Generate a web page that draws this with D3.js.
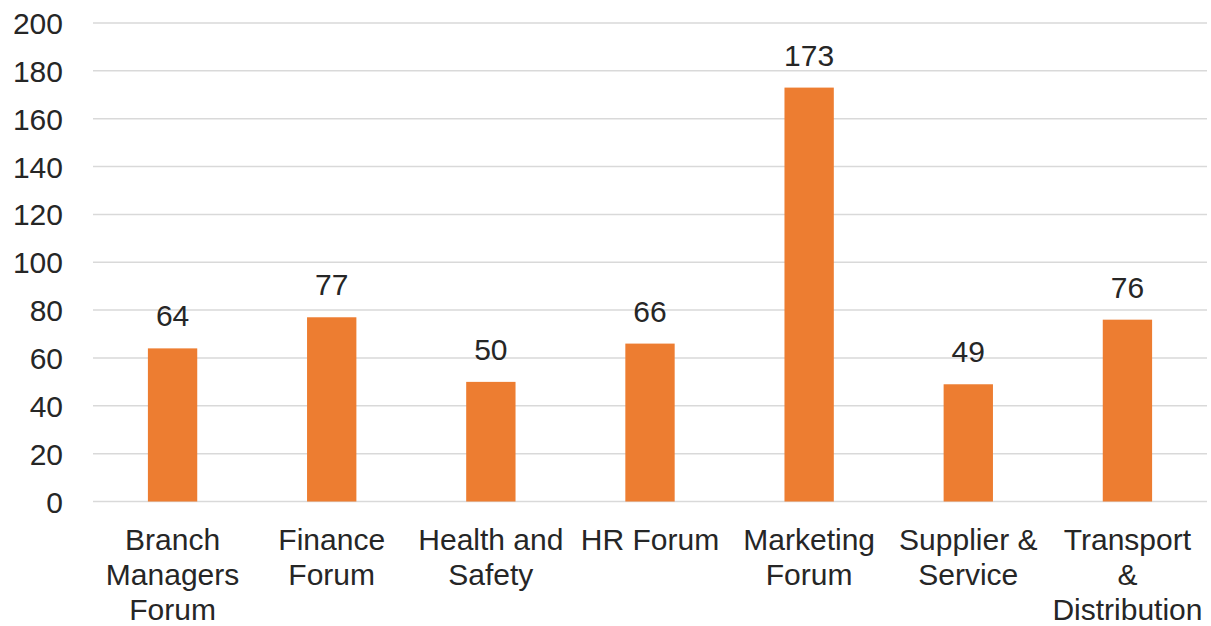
<!DOCTYPE html>
<html>
<head>
<meta charset="utf-8">
<script src="https://cdn.jsdelivr.net/npm/d3@7"></script>
<style>
  html, body { margin: 0; padding: 0; background: #fff; }
  svg { display: block; }
  text { font-family: "Liberation Sans", Arial, sans-serif; fill: #262626; }
</style>
</head>
<body>
<svg id="chart" width="1211" height="626"></svg>
<script>
const categories = ["Branch Managers Forum", "Finance Forum", "Health and Safety", "HR Forum", "Marketing Forum", "Supplier & Service", "Transport & Distribution"];
const categoryLines = [["Branch", "Managers", "Forum"], ["Finance", "Forum"], ["Health and", "Safety"], ["HR Forum"], ["Marketing", "Forum"], ["Supplier &", "Service"], ["Transport", "&", "Distribution"]];
const values = [64, 77, 50, 66, 173, 49, 76];
const yTicks = [0, 20, 40, 60, 80, 100, 120, 140, 160, 180, 200];

const svg = d3.select("#chart");
const plotLeft = 93, plotRight = 1207, plotTop = 23, plotBottom = 501.5;
const fs = 30;

const x = d3.scaleBand().domain(categories).range([plotLeft, plotRight]).paddingInner(0.69).paddingOuter(0.345);
const y = d3.scaleLinear().domain([0, 200]).range([plotBottom, plotTop]);

// gridlines
svg.append("g").selectAll("line").data(yTicks).join("line")
  .attr("x1", plotLeft).attr("x2", plotRight)
  .attr("y1", d => y(d)).attr("y2", d => y(d))
  .attr("stroke", "#d9d9d9").attr("stroke-width", 1.5);

// y tick labels
svg.append("g").selectAll("text").data(yTicks).join("text")
  .attr("x", 63).attr("y", d => y(d) + 11)
  .attr("text-anchor", "end").attr("font-size", fs)
  .text(d => d);

// bars
svg.append("g").selectAll("rect").data(values).join("rect")
  .attr("x", (d, i) => x(categories[i]))
  .attr("width", x.bandwidth())
  .attr("y", d => y(d))
  .attr("height", d => y(0) - y(d))
  .attr("fill", "#ED7D31");

// data labels
svg.append("g").selectAll("text").data(values).join("text")
  .attr("x", (d, i) => x(categories[i]) + x.bandwidth() / 2)
  .attr("y", d => y(d) - 22)
  .attr("text-anchor", "middle").attr("font-size", fs)
  .text(d => d);

// category labels
const cg = svg.append("g");
categories.forEach((c, i) => {
  const cx = x(c) + x.bandwidth() / 2;
  const t = cg.append("text")
    .attr("x", cx)
    .attr("y", 550)
    .attr("text-anchor", "middle").attr("font-size", fs);
  categoryLines[i].forEach((ln, j) => {
    t.append("tspan").attr("x", cx).attr("y", 550 + j * 35).text(ln);
  });
});
</script>
</body>
</html>
